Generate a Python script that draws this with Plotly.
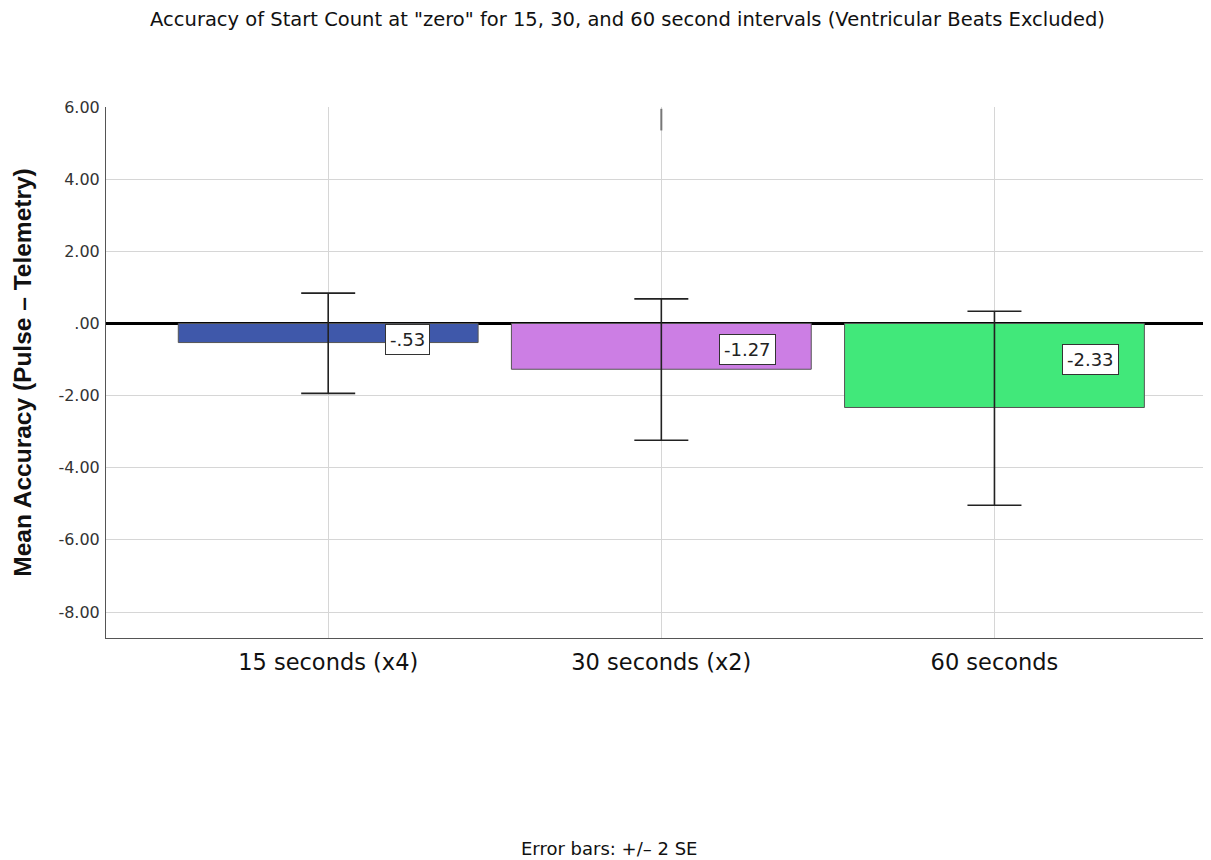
import plotly.graph_objects as go

categories = ["15 seconds (x4)", "30 seconds (x2)", "60 seconds"]
means = [-0.53, -1.27, -2.33]
err_upper = [0.84, 0.68, 0.34]
err_lower = [-1.94, -3.24, -5.04]
bar_colors = ["#3F58AA", "#CC7EE4", "#41E87A"]
y_ticks = [6, 4, 2, 0, -2, -4, -6, -8]
artifact_y = [5.35, 5.95]

def spss_fmt(v, nd=2):
    s = f"{v:.{nd}f}"
    s = s.replace("-0.", "-.")
    if s.startswith("0."):
        s = s[1:]
    return s

fig = go.Figure()
fig.add_trace(go.Bar(
    x=categories, y=means, width=0.9,
    marker=dict(color=bar_colors, line=dict(color="#555555", width=1)),
    error_y=dict(type="data", symmetric=False,
                 array=[u - m for u, m in zip(err_upper, means)],
                 arrayminus=[m - l for l, m in zip(err_lower, means)],
                 color="#222222", thickness=1.6, width=27),
    showlegend=False, hoverinfo="skip",
))

label_xshift = [57, 58, 68]
label_yshift = [-1, -11, -21]
for c, m, xs, ys in zip(categories, means, label_xshift, label_yshift):
    fig.add_annotation(x=c, y=0, text=spss_fmt(m), showarrow=False,
                       xanchor="left", yanchor="top", xshift=xs, yshift=ys,
                       font=dict(family="DejaVu Sans", size=18, color="#222222"),
                       bgcolor="white", bordercolor="#333333", borderwidth=1, borderpad=4)

fig.add_shape(type="line", xref="x", yref="y", x0=categories[1], x1=categories[1],
              y0=artifact_y[0], y1=artifact_y[1], line=dict(color="#777777", width=2))

# page body adds an 8px offset, so the figure is sized to fit the window
fig.update_layout(
    width=1203, height=852,
    margin=dict(l=98, r=0, t=99, b=222, autoexpand=False),
    paper_bgcolor="white", plot_bgcolor="white",
    title=dict(text='Accuracy of Start Count at "zero" for 15, 30, and 60 second intervals (Ventricular Beats Excluded)',
               x=0.515, xanchor="center", y=0.987, yanchor="middle",
               font=dict(family="DejaVu Sans", size=19.5, color="#111111")),
    xaxis=dict(range=[-0.667, 2.65], showgrid=True, gridcolor="#D6D6D6", gridwidth=1,
               showline=True, linecolor="#555555", linewidth=1, ticks="", ticklabelstandoff=4,
               tickfont=dict(family="DejaVu Sans", size=22.5, color="#111111")),
    yaxis=dict(range=[-8.72, 6.0], tickvals=y_ticks, ticktext=[spss_fmt(v) for v in y_ticks],
               showgrid=True, gridcolor="#D6D6D6", gridwidth=1,
               zeroline=True, zerolinecolor="#000000", zerolinewidth=3,
               showline=True, linecolor="#555555", linewidth=1, ticks="", ticklabelstandoff=2,
               tickfont=dict(family="DejaVu Sans", size=16, color="#333333"),
               title=dict(text="<b>Mean Accuracy (Pulse – Telemetry)</b>", standoff=19,
                          font=dict(family="Liberation Sans", size=24.5, color="#111111"))),
)
fig.add_annotation(text="Error bars: +/– 2 SE", xref="paper", yref="paper", x=0.455, y=-0.397,
                   xanchor="center", yanchor="middle", showarrow=False,
                   font=dict(family="DejaVu Sans", size=18, color="#111111"))

fig.write_html("out.html")
